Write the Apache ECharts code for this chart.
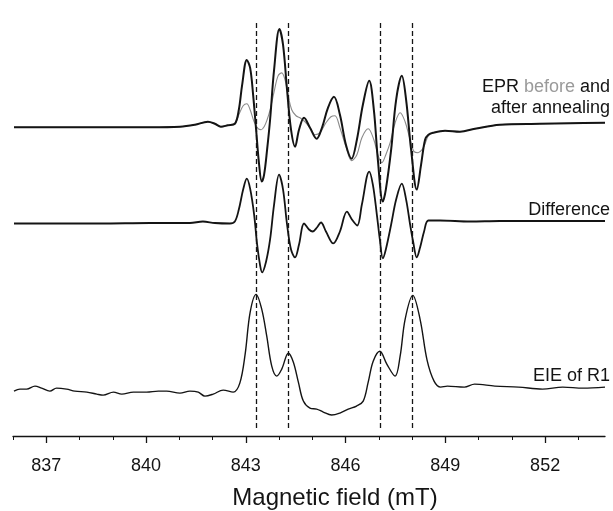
<!DOCTYPE html>
<html>
<head>
<meta charset="utf-8">
<title>EPR / EIE spectra</title>
<script src="https://cdn.jsdelivr.net/npm/echarts@6/dist/echarts.min.js"></script>
<style>
  html, body { margin: 0; padding: 0; background: #fff; }
  #chart { width: 613px; height: 511px; }
</style>
</head>
<body>
<div id="chart"></div>
<script>
// field in mT, signal in arbitrary units (each trace shifted by its own offset)
const eprBefore = [
  [836.03, 309.5], [837.41, 309.5], [838.62, 309.5], [840.12, 309.5], [841.02, 310], [841.47, 312],
  [841.86, 315], [842.07, 313], [842.25, 310], [842.46, 311.5], [842.67, 313], [842.79, 327],
  [842.89, 352], [843.03, 377], [843.13, 369], [843.22, 342], [843.31, 307], [843.40, 272],
  [843.48, 255], [843.55, 262], [843.64, 287], [843.73, 317], [843.85, 367], [844.01, 408],
  [844.12, 392], [844.24, 347], [844.36, 307], [844.48, 290], [844.60, 307], [844.75, 319],
  [844.93, 309], [845.13, 298], [845.29, 309], [845.47, 329], [845.65, 340], [845.83, 322],
  [846.01, 292], [846.18, 278], [846.34, 297], [846.52, 332], [846.71, 356], [846.85, 327],
  [846.97, 277], [847.12, 235], [847.21, 247], [847.37, 287], [847.52, 337], [847.69, 361],
  [847.82, 337], [847.97, 287], [848.14, 247], [848.27, 272], [848.39, 297], [848.49, 302],
  [848.63, 304], [848.99, 306], [849.44, 305], [849.89, 308], [850.64, 312], [851.84, 313],
  [852.75, 313.5], [853.8, 314]
]
const eprAfter = [
  [836.03, 309.5], [837.41, 309.5], [838.62, 309.5], [840.12, 309.5], [841.02, 310], [841.47, 312],
  [841.86, 315], [842.07, 313], [842.25, 310], [842.46, 311.5], [842.67, 313], [842.79, 322],
  [842.92, 331], [843.03, 333], [843.13, 327], [843.25, 315], [843.37, 308], [843.46, 307],
  [843.55, 310], [843.64, 317], [843.73, 327], [843.85, 345], [843.97, 361], [844.08, 364],
  [844.18, 357], [844.27, 342], [844.38, 327], [844.51, 321], [844.63, 319], [844.78, 315],
  [844.93, 309], [845.08, 302], [845.23, 304], [845.41, 314], [845.56, 320], [845.68, 321],
  [845.83, 309], [846.01, 290], [846.18, 276], [846.34, 282], [846.49, 299], [846.68, 308],
  [846.85, 297], [846.97, 282], [847.09, 274], [847.21, 282], [847.34, 294], [847.49, 314],
  [847.64, 324], [847.79, 315], [847.94, 297], [848.06, 285], [848.18, 284], [848.30, 287],
  [848.39, 293], [848.49, 301], [848.63, 304], [848.99, 306], [849.44, 305], [849.89, 308],
  [850.64, 312], [851.84, 313], [852.75, 313.5], [853.8, 314]
]
const difference = [
  [836.03, 213], [838.62, 213], [840.12, 213.5], [841.32, 213.5], [841.71, 215], [842.07, 213.5],
  [842.52, 213], [842.67, 215], [842.79, 227], [842.92, 247], [843.03, 258], [843.13, 248],
  [843.25, 222], [843.34, 192], [843.43, 171], [843.49, 164], [843.61, 175], [843.73, 197],
  [843.85, 232], [844.00, 262], [844.12, 247], [844.24, 212], [844.36, 187], [844.48, 179],
  [844.60, 192], [844.75, 213], [844.90, 207], [845.01, 205], [845.14, 209], [845.26, 214],
  [845.41, 205], [845.63, 193], [845.83, 205], [846.04, 225], [846.19, 217], [846.35, 211],
  [846.49, 232], [846.71, 265], [846.82, 252], [846.94, 222], [847.03, 197], [847.12, 178],
  [847.21, 187], [847.37, 212], [847.52, 237], [847.69, 253], [847.82, 237], [847.94, 212],
  [848.03, 195], [848.14, 179], [848.24, 189], [848.36, 205], [848.49, 216], [848.84, 216],
  [849.74, 215], [850.64, 215.5], [852.15, 215.5], [853.8, 215.5]
]
const eieR1 = [
  [836.03, 45], [836.21, 47], [836.41, 47], [836.66, 50], [836.86, 48], [837.11, 45],
  [837.31, 48], [837.61, 47], [837.86, 45], [838.22, 44], [838.52, 42], [838.71, 41],
  [839.02, 44], [839.27, 42], [839.62, 44], [840.02, 44], [840.37, 45], [840.62, 45],
  [841.02, 43], [841.32, 45], [841.57, 44], [841.77, 40], [842.02, 42], [842.32, 46],
  [842.62, 44], [842.82, 53], [842.98, 82], [843.13, 124], [843.31, 142], [843.48, 127],
  [843.63, 100], [843.78, 70], [843.93, 60], [844.08, 67], [844.28, 83], [844.43, 74],
  [844.58, 54], [844.73, 35], [844.93, 28], [845.13, 27], [845.33, 24], [845.58, 21],
  [845.83, 23], [846.08, 27], [846.33, 30], [846.53, 35], [846.68, 54], [846.83, 75],
  [847.03, 85], [847.24, 72], [847.49, 60], [847.64, 80], [847.79, 117], [848.02, 141],
  [848.24, 117], [848.45, 76], [848.66, 55], [848.86, 49], [849.06, 50], [849.57, 49],
  [849.88, 52], [850.49, 50], [851.20, 49], [851.92, 47], [852.53, 49], [853.14, 48],
  [853.8, 49]
]
const markerFields = [843.3, 844.27, 847.03, 848.0]
const markerSpan = [8, 417]
const tickLabels = [837, 840, 843, 846, 849, 852]
const minorTicks = [836, 837, 838, 839, 840, 841, 842, 843, 844, 845, 846, 847, 848, 849, 850, 851, 852, 853]

const FONT = '"Liberation Sans", Arial, sans-serif'
const INK = '#141414'

const chart = echarts.init(document.getElementById('chart'), null, { renderer: 'canvas' })

const trace = (name, data, width, color) => ({
  name: name,
  type: 'line',
  data: data,
  showSymbol: false,
  smooth: 0.35,
  clip: true,
  lineStyle: { width: width, color: color },
  z: 3
})

const eieSeries = trace('EIE of R1', eieR1, 1.4, INK)
eieSeries.markLine = {
  silent: true,
  symbol: ['none', 'none'],
  label: { show: false },
  lineStyle: { type: [5, 3], color: INK, width: 1.3 },
  data: markerFields.map(f => [{ coord: [f, markerSpan[0]] }, { coord: [f, markerSpan[1]] }])
}

chart.setOption({
  animation: false,
  backgroundColor: '#fff',
  // keep the plot box where it is, labels may sit outside it
  grid: { left: 13, right: 8, top: 17, bottom: 75, outerBoundsMode: 'none', containLabel: false },
  xAxis: [
    {
      type: 'value',
      min: 836,
      max: 853.8,
      name: 'Magnetic field (mT)',
      nameLocation: 'middle',
      nameGap: 50,
      nameTextStyle: { fontSize: 24, color: INK, fontFamily: FONT, padding: [0, 0, 0, 52] },
      axisLine: { lineStyle: { color: INK, width: 1.3 } },
      axisTick: { customValues: tickLabels, length: 7, lineStyle: { color: INK, width: 1.3 } },
      axisLabel: { customValues: tickLabels, fontSize: 18, color: INK, fontFamily: FONT, margin: 21 },
      splitLine: { show: false }
    },
    {
      type: 'value',
      position: 'bottom',
      min: 836,
      max: 853.8,
      axisLine: { show: false },
      axisTick: { customValues: minorTicks, length: 4, lineStyle: { color: INK, width: 1 } },
      axisLabel: { show: false },
      splitLine: { show: false }
    }
  ],
  yAxis: { type: 'value', min: 0, max: 420, show: false },
  series: [
    trace('EPR after annealing', eprAfter, 1.1, '#8a8a8a'),
    trace('EPR before annealing', eprBefore, 2, INK),
    trace('Difference', difference, 1.8, INK),
    eieSeries
  ],
  graphic: [
    { type: 'text', right: 3, top: 78, style: { text: 'EPR {g|before} and', font: '18px ' + FONT, fill: INK,
      rich: { g: { fill: '#9a9a9a', fontSize: 18, fontFamily: FONT } } } },
    { type: 'text', right: 3, top: 99, style: { text: 'after annealing', font: '18px ' + FONT, fill: INK } },
    { type: 'text', right: 3, top: 201, style: { text: 'Difference', font: '18px ' + FONT, fill: INK } },
    { type: 'text', right: 3, top: 367, style: { text: 'EIE of R1', font: '18px ' + FONT, fill: INK } }
  ]
})
</script>
</body>
</html>
